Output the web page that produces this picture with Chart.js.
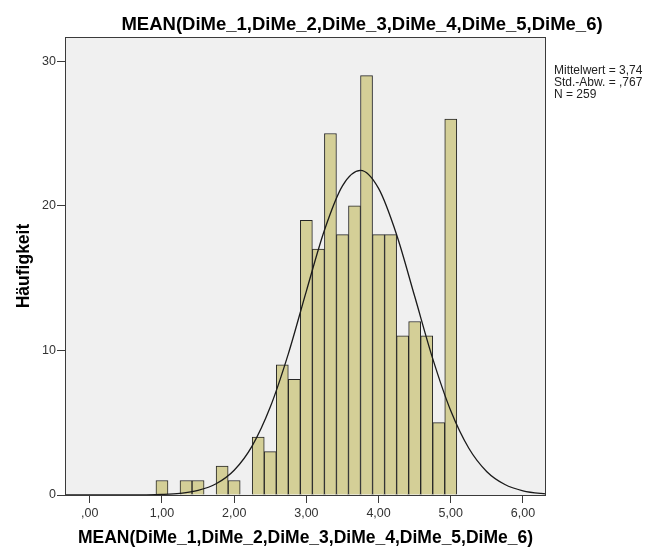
<!DOCTYPE html>
<html><head><meta charset="utf-8">
<script src="https://cdn.jsdelivr.net/npm/chart.js@4"></script>
<style>html,body{margin:0;padding:0;background:#fff}</style>
</head><body>
<canvas id="c" width="667" height="552"></canvas>
<script>
const chartTitle = 'MEAN(DiMe_1,DiMe_2,DiMe_3,DiMe_4,DiMe_5,DiMe_6)';
const xAxisTitle = 'MEAN(DiMe_1,DiMe_2,DiMe_3,DiMe_4,DiMe_5,DiMe_6)';
const yAxisTitle = 'Häufigkeit';
const statsLines = ['Mittelwert = 3,74', 'Std.-Abw. = ,767', 'N = 259'];

const binCenters = [1.0000, 1.3333, 1.5000, 1.8333, 2.0000, 2.3333, 2.5000, 2.6667, 2.8333,
  3.0000, 3.1667, 3.3333, 3.5000, 3.6667, 3.8333, 4.0000, 4.1667, 4.3333, 4.5000, 4.6667, 4.8333, 5.0000];
const counts = [1, 1, 1, 2, 1, 4, 3, 9, 8, 19, 17, 25, 18, 20, 29, 18, 18, 11, 12, 11, 5, 26];

const curveX = [-0.5, -0.25, 0, 0.25, 0.5, 0.75, 1.0, 1.25, 1.5, 1.75, 2.0, 2.25, 2.5, 2.75, 3.0, 3.25, 3.5,
  3.75, 4.0, 4.25, 4.5, 4.75, 5.0, 5.25, 5.5, 5.75, 6.0, 6.25, 6.5];
const curveY = [0, 0, 0.0002, 0.0007, 0.003, 0.011, 0.038, 0.115, 0.316, 0.775, 1.71, 3.40, 6.08, 9.76, 14.10, 18.31, 21.38,
  22.45, 21.20, 18.00, 13.74, 9.43, 5.82, 3.23, 1.61, 0.724, 0.292, 0.106, 0.035];

const xTickValues = [0, 1, 2, 3, 4, 5, 6];
const xTickLabels = [',00', '1,00', '2,00', '3,00', '4,00', '5,00', '6,00'];
const yTickValues = [0, 10, 20, 30];
const yTickLabels = ['0', '10', '20', '30'];

const FONT = "'Liberation Sans', Arial, sans-serif";

const decor = {
  id: 'decor',
  beforeDraw(chart) {
    const a = chart.chartArea, ctx = chart.ctx;
    ctx.save();
    ctx.fillStyle = '#f0f0f0';
    ctx.fillRect(a.left, a.top, a.right - a.left, a.bottom - a.top);
    ctx.restore();
  },
  afterDatasetsDraw(chart) {
    const a = chart.chartArea, ctx = chart.ctx;
    ctx.save();
    ctx.strokeStyle = '#3a3a3a';
    ctx.lineWidth = 1;
    ctx.strokeRect(Math.round(a.left) + 0.5, Math.round(a.top) + 0.5,
      Math.round(a.right - a.left) - 1, Math.round(a.bottom - a.top));
    ctx.restore();
  },
  afterDraw(chart) {
    const ctx = chart.ctx;
    ctx.save();
    ctx.fillStyle = '#000';
    ctx.font = 'bold 18.5px ' + FONT;
    ctx.textAlign = 'center';
    ctx.textBaseline = 'alphabetic';
    ctx.fillText(chartTitle, 362, 29.5);
    ctx.font = '12px ' + FONT;
    ctx.fillStyle = '#222';
    ctx.textAlign = 'left';
    statsLines.forEach((t, i) => ctx.fillText(t, 554, 74 + i * 11.8));
    ctx.restore();
  }
};

new Chart(document.getElementById('c'), {
  plugins: [decor],
  data: {
    datasets: [
      {
        type: 'line',
        order: 0,
        data: curveX.map((x, i) => ({x: x, y: curveY[i]})),
        borderColor: '#1a1a1a',
        borderWidth: 1.3,
        pointRadius: 0,
        fill: false,
        cubicInterpolationMode: 'monotone'
      },
      {
        type: 'bar',
        order: 1,
        data: binCenters.map((x, i) => ({x: x, y: counts[i]})),
        backgroundColor: '#d4cf97',
        borderColor: '#262626',
        borderWidth: 1,
        barPercentage: 1,
        categoryPercentage: 1,
        grouped: false
      }
    ]
  },
  options: {
    responsive: false,
    animation: false,
    devicePixelRatio: 1,
    layout: {padding: {top: 37, right: 121, bottom: 0, left: 0}},
    plugins: {legend: {display: false}, tooltip: {enabled: false}, title: {display: false}},
    scales: {
      x: {
        type: 'linear',
        offset: false,
        min: -0.343, max: 6.319,
        afterBuildTicks: s => { s.ticks = xTickValues.map(v => ({value: v})); },
        afterFit: s => { s.height = 57; },
        ticks: {
          callback: v => xTickLabels[xTickValues.indexOf(v)],
          font: {family: FONT, size: 12.5}, color: '#333',
          padding: 3, maxRotation: 0, autoSkip: false
        },
        grid: {display: true, offset: false, drawOnChartArea: false, drawTicks: true, tickLength: 8, tickColor: '#3a3a3a', tickWidth: 1},
        border: {display: false},
        title: {display: true, text: xAxisTitle, color: '#000',
          font: {family: FONT, size: 17.5, weight: 'bold'}, padding: {top: 0, bottom: 3}}
      },
      y: {
        type: 'linear',
        min: 0, max: 31.67,
        afterBuildTicks: s => { s.ticks = yTickValues.map(v => ({value: v})); },
        afterFit: s => { s.width = 65; },
        ticks: {
          callback: v => yTickLabels[yTickValues.indexOf(v)],
          font: {family: FONT, size: 12.5}, color: '#333', padding: 1
        },
        grid: {display: true, drawOnChartArea: false, drawTicks: true, tickLength: 8, tickColor: '#3a3a3a', tickWidth: 1},
        border: {display: false},
        title: {display: true, text: yAxisTitle, color: '#000',
          font: {family: FONT, size: 17.5, weight: 'bold'}, padding: {top: 14, bottom: 0}}
      }
    }
  }
});
</script>
</body></html>
